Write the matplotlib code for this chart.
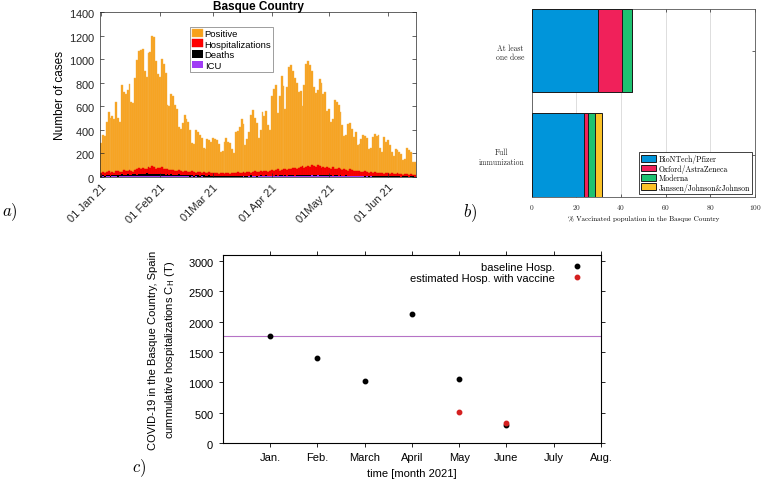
"""
Three panel figure: daily cases in the Basque Country, vaccination shares
and the monthly hospitalizations with / without vaccine.
"""

###############################################################################
### Import packages
import numpy as np
import matplotlib
matplotlib.use("Agg")
import matplotlib.pyplot as plt
###############################################################################

plt.rcParams['font.family'] = ['Liberation Sans', 'DejaVu Sans']
plt.rcParams['mathtext.fontset'] = 'cm'
plt.rcParams['axes.formatter.use_mathtext'] = True

### Panel a: daily series, 01 Jan 21 -> 15 Jun 21 (one value per day)
positive = [
    # Jan
    290, 360, 350, 470, 555, 500, 520, 490, 640, 500, 470, 780, 720, 700, 740, 790,
    640, 630, 840, 990, 1070, 1080, 1090, 900, 850, 1050, 1060, 1200, 1190, 980, 870,
    # Feb
    850, 1000, 960, 880, 610, 600, 700, 690, 610, 580, 420, 410, 460, 530, 490, 470,
    400, 290, 280, 400, 380, 360, 330, 250, 240, 320, 310, 300,
    # Mar
    330, 320, 310, 280, 210, 220, 300, 330, 300, 290, 240, 200, 380, 390, 420, 490,
    450, 270, 320, 380, 530, 570, 500, 460, 330, 400, 550, 520, 560, 440, 400,
    # Apr
    690, 750, 780, 540, 690, 860, 770, 580, 760, 930, 950, 900, 840, 800, 720, 730,
    600, 780, 960, 980, 950, 900, 760, 710, 740, 830, 800, 700, 720, 560,
    # May
    580, 470, 490, 650, 640, 610, 550, 440, 350, 360, 450, 460, 410, 340, 380, 270,
    280, 320, 360, 350, 330, 240, 250, 340, 365, 350, 355, 250, 210, 340, 300,
    # Jun
    310, 270, 210, 180, 240, 225, 210, 195, 140, 150, 250, 230, 210, 130, 125,
]
hospitalizations = [
    35, 40, 30, 45, 50, 38, 42, 36, 48, 55, 40, 45, 60, 52, 48, 58, 50, 46, 62, 70,
    75, 68, 80, 72, 65, 85, 78, 90, 82, 70, 75,
    80, 88, 72, 65, 70, 60, 58, 62, 55, 50, 60, 48, 45, 52, 55, 42, 40, 50, 46, 38,
    44, 40, 36, 42, 38, 35, 40, 34,
    32, 38, 30, 28, 35, 30, 26, 34, 30, 28, 36, 32, 30, 40, 35, 38, 42, 36, 40, 45,
    38, 42, 48, 44, 40, 50, 46, 52, 48, 45, 55,
    58, 52, 60, 65, 55, 62, 70, 66, 60, 72, 68, 75, 80, 70, 78, 85, 90, 76, 82, 95,
    88, 100, 92, 85, 98, 90, 80, 86, 75, 82,
    78, 70, 85, 72, 65, 75, 68, 60, 70, 62, 55, 64, 58, 50, 55, 48, 52, 45, 40, 48,
    42, 38, 44, 36, 40, 34, 30, 38, 32, 28, 35,
    30, 26, 32, 28, 24, 30, 22, 26, 20, 24, 22, 18, 25, 20, 18,
]
deaths = [
    12, 15, 10, 14, 18, 12, 16, 14, 20, 16, 18, 22, 15, 19, 24, 20, 18, 22, 26, 20,
    24, 28, 22, 25, 30, 24, 27, 22, 26, 28, 24,
    25, 22, 26, 20, 24, 18, 22, 20, 16, 19, 22, 15, 18, 14, 17, 20, 13, 16, 12, 15,
    14, 11, 13, 16, 12, 10, 14, 12,
    10, 12, 9, 11, 8, 12, 10, 9, 11, 8, 10, 12, 9, 11, 10, 8, 12, 9, 11, 10,
    13, 9, 12, 10, 11, 14, 10, 12, 13, 11, 12,
    12, 10, 14, 11, 13, 15, 12, 14, 11, 16, 13, 15, 12, 17, 14, 16, 13, 18, 15, 14,
    17, 16, 19, 15, 18, 14, 17, 16, 13, 15,
    14, 16, 12, 15, 13, 11, 14, 12, 10, 13, 11, 9, 12, 10, 8, 11, 9, 10, 8, 7,
    9, 8, 10, 7, 6, 8, 7, 9, 6, 7, 8,
    6, 8, 5, 7, 6, 5, 7, 4, 6, 5, 6, 4, 5, 6, 4,
]
icu = [
    4, 5, 3, 5, 6, 4, 5, 5, 6, 4, 6, 7, 5, 6, 7, 6, 5, 7, 8, 6, 7, 8, 7, 6, 9, 7,
    8, 7, 8, 9, 7,
    8, 7, 8, 6, 7, 6, 7, 6, 5, 6, 7, 5, 6, 5, 5, 6, 4, 5, 4, 5, 4, 4, 5, 4, 4, 3,
    4, 4,
    3, 4, 3, 4, 3, 4, 3, 3, 4, 3, 4, 4, 3, 4, 4, 3, 5, 4, 4, 5, 4, 5, 5, 4, 5, 6,
    5, 6, 5, 6, 6,
    6, 7, 6, 7, 8, 7, 8, 8, 7, 9, 8, 9, 10, 9, 10, 11, 10, 12, 11, 10, 12, 13, 12,
    11, 13, 12, 11, 12, 10, 11,
    10, 11, 9, 10, 9, 8, 9, 8, 7, 8, 7, 6, 7, 6, 6, 5, 6, 5, 5, 4, 5, 4, 5, 4, 4,
    3, 4, 3, 4, 3, 3,
    3, 3, 2, 3, 3, 2, 3, 2, 3, 2, 2, 3, 2, 2, 2,
]
date_ticks = [0, 31, 59, 90, 120, 151]   # day index of the first of each month
date_labels = ['01 Jan 21', '01 Feb 21', '01Mar 21', '01 Apr 21', '01May 21', '01 Jun 21']

### Panel b: vaccinated population (%) by vaccine
vacc_groups = ['At least\none dose', 'Full\nimmunization']
vaccines = ['BioNTech/Pfizer', 'Oxford/AstraZeneca', 'Moderna', 'Janssen/Johnson&Johnson']
vacc_one_dose = [29.6, 11.0, 4.2, 0.0]
vacc_full = [23.6, 1.5, 3.4, 3.0]
vacc_colors = ['#0095da', '#f0215a', '#1ec271', '#fbc227']

### Panel c: cumulative hospitalizations per month
months = ['Jan.', 'Feb.', 'March', 'April', 'May', 'June', 'July', 'Aug.']
baseline_hosp = [1760, 1400, 1030, 2120, 1055, 300]
vaccine_months = [5, 6]
vaccine_hosp = [505, 335]
threshold_hosp = 1760


def main():
    fig = plt.figure(figsize=(7.61, 4.85), dpi=100)
    plot_cases(fig.add_axes([0.1314, 0.633, 0.4152, 0.3402]))
    plot_vaccines(fig.add_axes([0.6987, 0.5924, 0.2934, 0.387]))
    plot_hospitalizations(fig.add_axes([0.293, 0.0845, 0.4967, 0.3876]))

    fig.text(0.002, 0.563, r'$a)$', fontsize=12, va='center')
    fig.text(0.608, 0.561, r'$b)$', fontsize=12, va='center')
    fig.text(0.173, 0.035, r'$c)$', fontsize=12, va='center')
    fig.savefig('out.png', dpi=100)


def plot_cases(ax):
    days = np.arange(len(positive))
    ax.bar(days, positive, width=1.0, color='#f7a11a', edgecolor='#f3b24e',
           linewidth=0.3, label='Positive')
    ax.bar(days, hospitalizations, width=1.0, color='#ff0000', edgecolor='#e00000',
           linewidth=0.3, label='Hospitalizations')
    ax.bar(days, deaths, width=1.0, color='#000000', linewidth=0, label='Deaths')
    ax.bar(days, icu, width=1.0, color='#a03cf5', linewidth=0, label='ICU')

    ax.set_xlim(-0.5, 165.7)
    ax.set_ylim(0, 1400)
    ax.set_yticks(range(0, 1401, 200))
    ax.set_xticks(date_ticks)
    ax.set_xticklabels(date_labels, rotation=45, ha='right', rotation_mode='anchor')
    ax.tick_params(direction='in', length=3, top=True, right=True,
                   labelsize=8, colors='#262626', width=0.5)
    for side in ax.spines.values():
        side.set_color('#262626')
        side.set_linewidth(0.5)
    ax.set_ylabel('Number of cases', fontsize=8.5, labelpad=2)
    ax.set_title('Basque Country', fontsize=8.5, fontweight='bold', pad=2)
    leg = ax.legend(loc='upper left', bbox_to_anchor=(0.285, 0.91), fontsize=6.8,
                    fancybox=False, handlelength=1.2, handleheight=0.9,
                    handletextpad=0.15, borderpad=0.2, labelspacing=0.15,
                    borderaxespad=0)
    leg.get_frame().set_edgecolor('#555555')
    leg.get_frame().set_linewidth(0.5)


def plot_vaccines(ax):
    ypos = [2, 1]
    left_one = 0.0
    left_full = 0.0
    for name, one, full, col in zip(vaccines, vacc_one_dose, vacc_full, vacc_colors):
        ax.barh(ypos, [one, full], left=[left_one, left_full], height=0.8,
                color=col, edgecolor='#1a1a1a', linewidth=0.7, label=name, zorder=3)
        left_one += one
        left_full += full

    ax.set_xlim(0, 100)
    ax.set_ylim(0.6, 2.4)
    ax.set_xticks(range(0, 101, 20))
    ax.set_yticks(ypos)
    ax.set_yticklabels(vacc_groups, family='cmr10', fontsize=5.5)
    for lbl in ax.get_yticklabels():
        lbl.set_multialignment('center')
    for lbl in ax.get_xticklabels():
        lbl.set_family('cmr10')
    ax.xaxis.grid(True, color='#dddddd', linewidth=0.7, zorder=0)
    ax.tick_params(direction='in', length=2.5, top=True, right=True,
                   labelsize=5.3, width=0.5, colors='#262626')
    ax.tick_params(axis='y', labelsize=5.5, pad=5)
    for side in ax.spines.values():
        side.set_color('#555555')
        side.set_linewidth(0.6)
    ax.set_xlabel('% Vaccinated population in the Basque Country',
                  family='cmr10', fontsize=5.1, labelpad=3)
    leg = ax.legend(loc='lower right', prop={'family': 'cmr10', 'size': 5.6},
                    fancybox=False, handlelength=2.0, handleheight=1.0,
                    handletextpad=0.3, borderpad=0.25, labelspacing=0.1,
                    borderaxespad=0.4)
    leg.get_frame().set_edgecolor('#222222')
    leg.get_frame().set_linewidth(0.6)
    leg.get_frame().set_alpha(1)


def plot_hospitalizations(ax):
    xmonth = np.arange(1, len(baseline_hosp) + 1)
    ax.axhline(threshold_hosp, color='#b673c6', linewidth=0.8)
    ax.plot(xmonth, baseline_hosp, 'o', color='black', markersize=3.2,
            label='baseline Hosp.')
    ax.plot(vaccine_months, vaccine_hosp, 'o', color='#d42020', markersize=3.2,
            label='estimated Hosp. with vaccine')

    ax.set_xlim(0, 8)
    ax.set_ylim(0, 3100)
    ax.set_xticks(range(1, 9))
    ax.set_xticklabels(months)
    ax.set_yticks(range(0, 3001, 500))
    ax.tick_params(direction='out', length=3, top=True, right=True,
                   labelsize=8, width=0.6)
    for side in ax.spines.values():
        side.set_linewidth(0.8)
    ax.set_xlabel('time [month 2021]', fontsize=8, labelpad=4)
    ax.set_ylabel('COVID-19 in the Basque Country, Spain\n'
                  r'cummulative hospitalizations C$_{\mathsf{H}}$ (T)',
                  fontsize=8, labelpad=8, linespacing=1.5)
    ax.legend(loc='upper right', markerfirst=False, frameon=False, fontsize=8,
              handlelength=1.0, handletextpad=1.5, labelspacing=0.1,
              borderaxespad=0.2, bbox_to_anchor=(0.97, 1.0))


main()
